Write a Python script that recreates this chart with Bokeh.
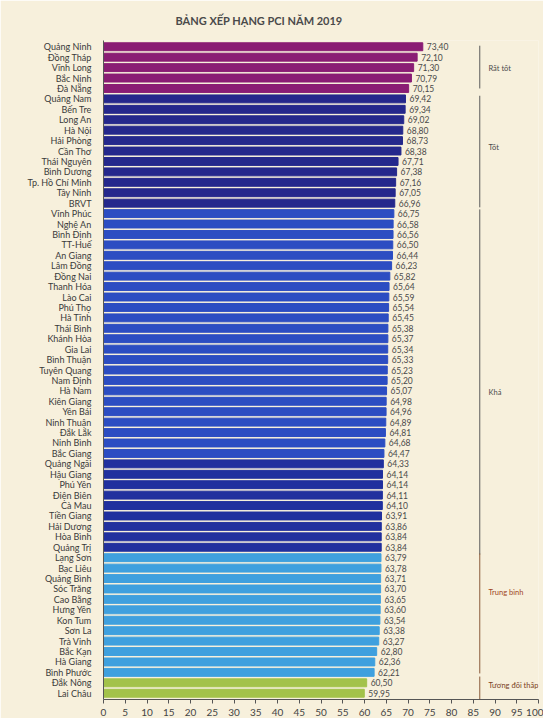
from bokeh.plotting import figure
from bokeh.models import ColumnDataSource, LabelSet, Range1d, FixedTicker, Label, Title
from bokeh.core.properties import value
from bokeh.embed import file_html
from bokeh.resources import INLINE

provinces = ["Quảng Ninh", "Đồng Tháp", "Vĩnh Long", "Bắc Ninh", "Đà Nẵng",
             "Quảng Nam", "Bến Tre", "Long An", "Hà Nội", "Hải Phòng", "Cần Thơ",
             "Thái Nguyên", "Bình Dương", "Tp. Hồ Chí Minh", "Tây Ninh", "BRVT",
             "Vĩnh Phúc", "Nghệ An", "Bình Định", "TT-Huế", "An Giang", "Lâm Đồng",
             "Đồng Nai", "Thanh Hóa", "Lào Cai", "Phú Thọ", "Hà Tĩnh", "Thái Bình",
             "Khánh Hòa", "Gia Lai", "Bình Thuận", "Tuyên Quang", "Nam Định", "Hà Nam",
             "Kiên Giang", "Yên Bái", "Ninh Thuận", "Đắk Lắk", "Ninh Bình", "Bắc Giang",
             "Quảng Ngãi", "Hậu Giang", "Phú Yên", "Điện Biên", "Cà Mau", "Tiền Giang",
             "Hải Dương", "Hòa Bình", "Quảng Trị", "Lạng Sơn", "Bạc Liêu", "Quảng Bình",
             "Sóc Trăng", "Cao Bằng", "Hưng Yên", "Kon Tum", "Sơn La", "Trà Vinh",
             "Bắc Kạn", "Hà Giang", "Bình Phước", "Đắk Nông", "Lai Châu"]
scores = [73.40, 72.10, 71.30, 70.79, 70.15,
          69.42, 69.34, 69.02, 68.80, 68.73, 68.38,
          67.71, 67.38, 67.16, 67.05, 66.96,
          66.75, 66.58, 66.56, 66.50, 66.44, 66.23,
          65.82, 65.64, 65.59, 65.54, 65.45, 65.38,
          65.37, 65.34, 65.33, 65.23, 65.20, 65.07,
          64.98, 64.96, 64.89, 64.81, 64.68, 64.47,
          64.33, 64.14, 64.14, 64.11, 64.10, 63.91,
          63.86, 63.84, 63.84, 63.79, 63.78, 63.71,
          63.70, 63.65, 63.60, 63.54, 63.38, 63.27,
          62.80, 62.36, 62.21, 60.50, 59.95]
groups = ["Rất tốt"] * 5 + ["Tốt"] * 11 + ["Khá"] * 33 + ["Trung bình"] * 12 + ["Tương đối thấp"] * 2
group_names = ["Rất tốt", "Tốt", "Khá", "Trung bình", "Tương đối thấp"]

bar_colors = {"Rất tốt": "#8a1d74", "Tốt": "#25288c", "Khá": "#2c4dc2",
              "Trung bình": "#3fa0de", "Tương đối thấp": "#a3c24a"}
group_text_colors = {"Rất tốt": "#4a4a4a", "Tốt": "#4a4a4a", "Khá": "#4a4a4a",
                     "Trung bình": "#a0461e", "Tương đối thấp": "#7a3f22"}

n = len(provinces)
rows = list(range(n))
colors = []
for i, g in enumerate(groups):
    c = bar_colors[g]
    if g == "Khá" and i >= 40:
        c = "#21309e"
    colors.append(c)

src = ColumnDataSource(dict(
    y=rows, score=scores,
    label=[f"{v:.2f}".replace(".", ",") for v in scores],
    color=colors,
))

bg = "#f7f0dc"
p = figure(width=543, height=718, output_backend="svg", toolbar_location=None,
           x_range=Range1d(0, 100), y_range=Range1d(n - 0.4, -0.6),
           min_border_left=103, min_border_right=5, min_border_top=40,
           min_border_bottom=0,
           background_fill_color=bg, border_fill_color=bg,
           title="BẢNG XẾP HẠNG PCI NĂM 2019")
p.title.text_font = "Lato"
p.title.text_font_size = "11px"
p.title.text_font_style = "bold"
p.title.text_color = "#4a4a4a"
p.title.align = "left"
p.title.offset = 72
spacer = Title(text=" ", text_font_size="1px", standoff=6)
p.above.insert(0, spacer)
p.outline_line_color = None
p.xgrid.grid_line_color = None
p.ygrid.grid_line_color = None

p.hbar(y="y", left=0, right="score", height=0.76, color="color", source=src)

p.add_layout(LabelSet(x="score", y="y", text="label", source=src, x_offset=4,
                      text_font=value("Lato"), text_font_size="8.5px",
                      text_color="#4a4a4a", text_baseline="middle"))

# group brackets
bracket_spans = {"Rất tốt": (-0.1, 4.0), "Tốt": (4.7, 15.4), "Khá": (15.6, 48.7),
                 "Trung bình": (48.6, 60.1), "Tương đối thấp": (60.4, 62.6)}
bracket_label_y = {"Rất tốt": 2.1, "Tốt": 9.7, "Khá": 33.2, "Trung bình": 52.3,
                   "Tương đối thấp": 61.3}
for g in group_names:
    y0, y1 = bracket_spans[g]
    lc = "#5a5a5a" if g in ("Rất tốt", "Tốt", "Khá") else "#8a5a3a"
    p.segment(x0=[86.5], y0=[y0], x1=[86.5], y1=[y1], line_color=lc, line_width=1)
    p.add_layout(Label(x=88.5, y=bracket_label_y[g], text=g, text_font="Lato",
                       text_font_size="7.5px", text_color=group_text_colors[g],
                       text_baseline="middle"))

p.xaxis.ticker = FixedTicker(ticks=list(range(0, 101, 5)))
p.xaxis.major_label_text_font = "Lato"
p.xaxis.major_label_text_font_size = "10px"
p.xaxis.major_label_text_color = "#444444"
p.xaxis.axis_line_color = "#555555"
p.xaxis.major_tick_line_color = "#555555"
p.xaxis.minor_tick_line_color = None
p.xaxis.major_tick_out = 4
p.xaxis.major_tick_in = 0

p.yaxis.ticker = FixedTicker(ticks=rows)
p.yaxis.major_label_overrides = {i: name for i, name in zip(rows, provinces)}
p.yaxis.major_label_text_font = "Lato"
p.yaxis.major_label_text_font_size = "9px"
p.yaxis.major_label_text_color = "#3a3a3a"
p.yaxis.major_tick_line_color = None
p.yaxis.minor_tick_line_color = None
p.yaxis.major_label_standoff = 6
p.yaxis.axis_line_color = "#555555"

open("out.html", "w").write(file_html(p, INLINE))
